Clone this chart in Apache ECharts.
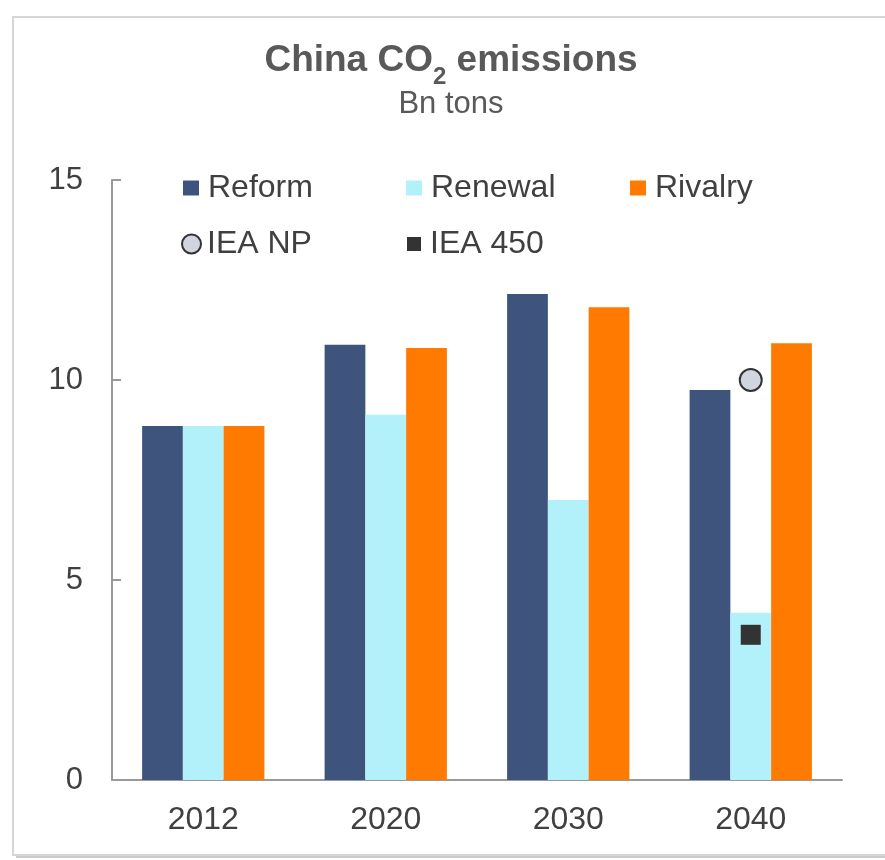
<!DOCTYPE html>
<html>
<head>
<meta charset="utf-8">
<script src="https://cdn.jsdelivr.net/npm/echarts@6/dist/echarts.min.js"></script>
<style>
  html, body { margin: 0; padding: 0; background: #ffffff; }
  #chart { width: 885px; height: 860px; }
</style>
</head>
<body>
<div id="chart"></div>
<script>
// ---- data ----
const categories = ['2012', '2020', '2030', '2040'];
const reform  = [8.85, 10.88, 12.15, 9.75];
const renewal = [8.85, 9.13, 7.0, 4.18];
const rivalry = [8.85, 10.8, 11.82, 10.92];
const ieaNP   = ['-', '-', '-', 10.0];
const iea450  = ['-', '-', '-', 3.63];
const yTicks  = { min: 0, max: 15, interval: 5 };

const FONT = 'Liberation Sans, Arial, sans-serif';
const TXT = '#404040';

const chart = echarts.init(document.getElementById('chart'), null, { renderer: 'canvas' });

function legendItem(name, left, top, w, h, extra, textPadLeft) {
  const item = Object.assign({ name: name }, extra);
  return {
    data: [item],
    left: left, top: top,
    padding: 0,
    itemWidth: w, itemHeight: h,
    textStyle: { fontFamily: FONT, fontSize: 32, color: TXT, padding: [0, 0, 0, textPadLeft] }
  };
}

const option = {
  backgroundColor: '#ffffff',
  animation: false,
  graphic: [
    { type: 'rect', silent: true, z: -2,
      shape: { x: 16, y: 20, width: 900, height: 838 },
      style: { fill: '#cccccc' } },
    { type: 'rect', silent: true, z: -1,
      shape: { x: 13, y: 17, width: 900, height: 838 },
      style: { fill: '#ffffff', stroke: '#d8d6d2', lineWidth: 2 } }
  ],
  title: {
    text: 'China CO{s|2} emissions',
    subtext: 'Bn tons',
    left: 446,
    top: 27,
    textAlign: 'center',
    itemGap: 0,
    textStyle: {
      fontFamily: FONT, fontSize: 37, fontWeight: 'bold', color: '#595959', lineHeight: 57,
      rich: {
        s: { fontFamily: FONT, fontSize: 24, fontWeight: 'bold', color: '#595959', lineHeight: 24, verticalAlign: 'bottom' }
      }
    },
    subtextStyle: { fontFamily: FONT, fontSize: 31, color: '#595959', lineHeight: 31 }
  },
  legend: [
    legendItem('Reform', 183, 172, 16, 15, { icon: 'rect' }, 4),
    legendItem('Renewal', 406, 172, 16, 15, { icon: 'rect' }, 4),
    legendItem('Rivalry', 630, 172, 16, 15, { icon: 'rect' }, 4),
    legendItem('IEA NP', 181, 228, 19, 19,
      { icon: 'circle', itemStyle: { color: '#d0d5e0', borderColor: '#333333', borderWidth: 2, opacity: 1 } }, 1),
    legendItem('IEA 450', 407, 228, 14, 14,
      { icon: 'rect', itemStyle: { color: '#333333', opacity: 1 } }, 4)
  ],
  grid: { left: 112, right: 43, top: 180, bottom: 80, containLabel: false },
  xAxis: {
    type: 'category',
    data: categories,
    axisLine: { show: true, lineStyle: { color: '#999999', width: 2 } },
    axisTick: { show: false },
    axisLabel: { fontFamily: FONT, fontSize: 32, color: TXT, margin: 24 },
    splitLine: { show: false }
  },
  yAxis: {
    type: 'value',
    min: yTicks.min, max: yTicks.max, interval: yTicks.interval,
    axisLine: { show: true, lineStyle: { color: '#999999', width: 2 } },
    axisTick: { show: true, inside: true, length: 9, lineStyle: { color: '#999999', width: 2 } },
    axisLabel: { fontFamily: FONT, fontSize: 31, color: TXT, margin: 29 },
    splitLine: { show: false }
  },
  series: [
    { name: 'Reform', type: 'bar', data: reform, barGap: '0%', barCategoryGap: '33%',
      itemStyle: { color: '#3f547c' } },
    { name: 'Renewal', type: 'bar', data: renewal, barGap: '0%', barCategoryGap: '33%',
      itemStyle: { color: '#b3f1fa' } },
    { name: 'Rivalry', type: 'bar', data: rivalry, barGap: '0%', barCategoryGap: '33%',
      itemStyle: { color: '#ff7a00' } },
    { name: 'IEA NP', type: 'scatter', data: ieaNP, symbol: 'circle', symbolSize: 22, z: 5,
      itemStyle: { color: '#d0d5e0', borderColor: '#333333', borderWidth: 2, opacity: 1 } },
    { name: 'IEA 450', type: 'scatter', data: iea450, symbol: 'rect', symbolSize: 20, z: 5,
      itemStyle: { color: '#333333', opacity: 1 } }
  ]
};

chart.setOption(option);
</script>
</body>
</html>
